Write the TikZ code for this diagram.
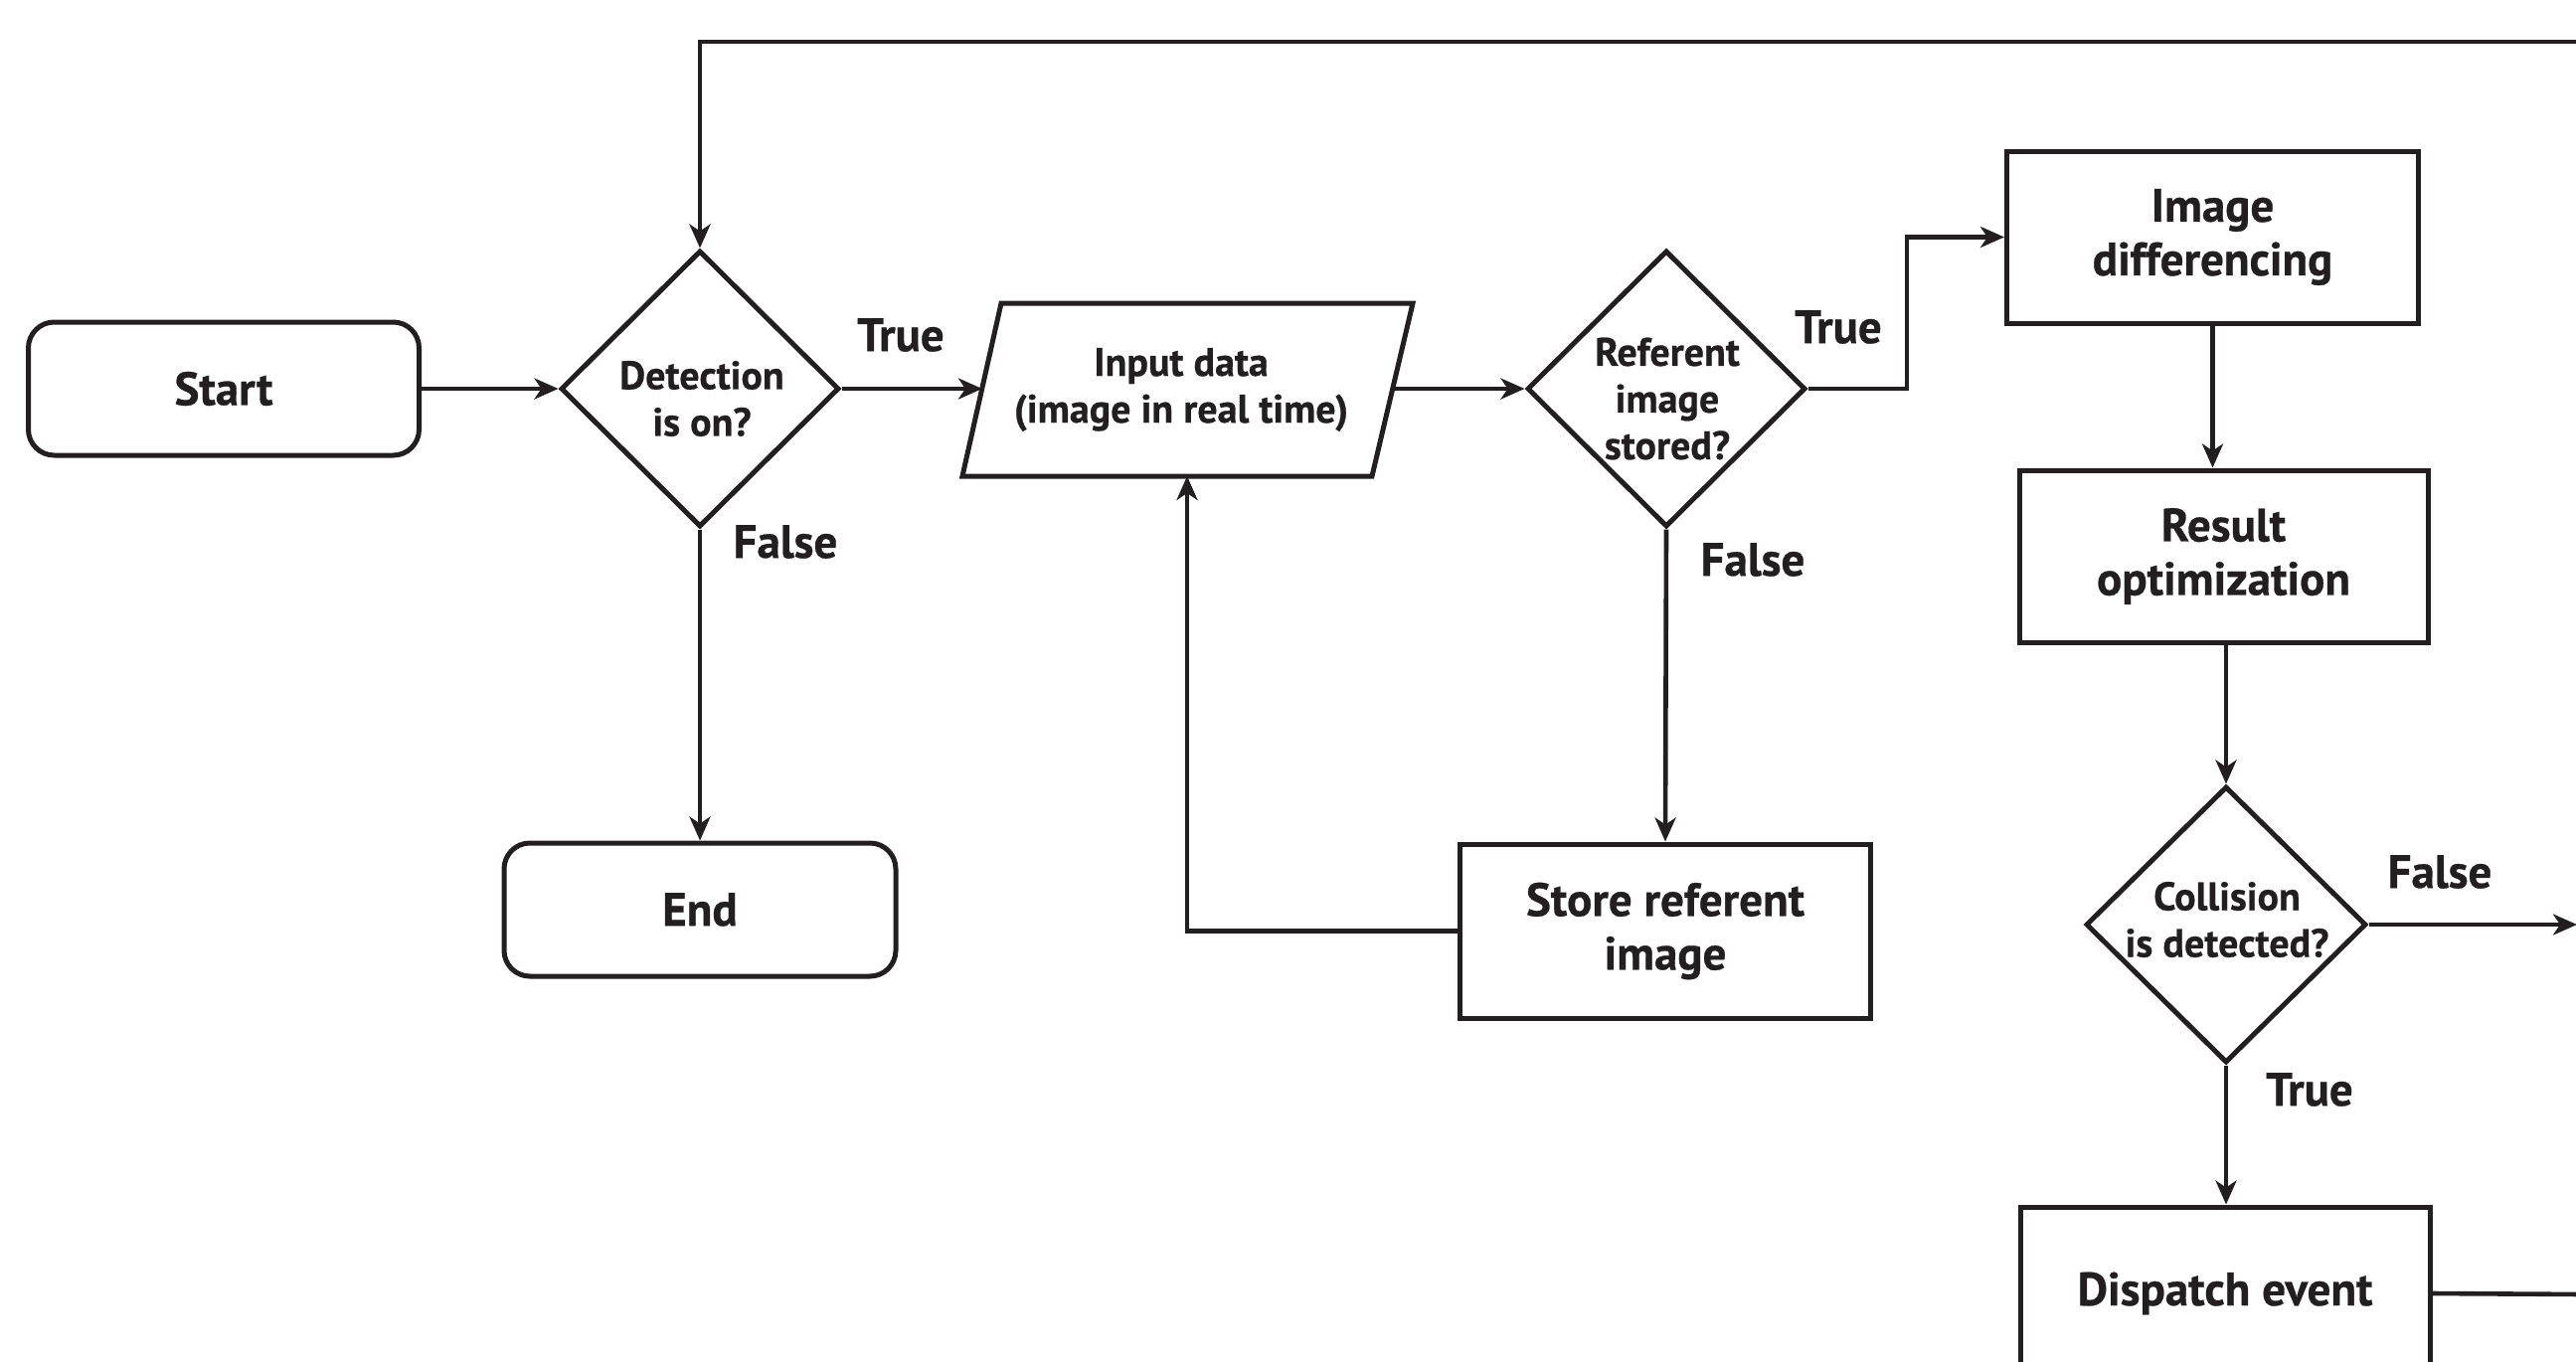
\documentclass[tikz,border=0pt]{standalone}
\usepackage{fontspec}
\setmainfont{PT Sans}[BoldFeatures={FakeBold=0.6}]
\usetikzlibrary{arrows.meta,shapes.geometric}
\definecolor{ink}{HTML}{231F20}
\newcommand{\boxfont}{\fontsize{47}{54}\selectfont\bfseries}
\newcommand{\smallfont}{\fontsize{40}{47}\selectfont\bfseries}
\begin{document}
\begin{tikzpicture}[x=1pt,y=-1pt,
  shapeline/.style={draw=ink, line width=5pt},
  procbox/.style={shapeline, rectangle, inner sep=0pt, align=center, font=\boxfont, text=ink},
  termbox/.style={procbox, rounded corners=26pt},
  decision/.style={shapeline, diamond, inner sep=0pt, minimum width=280pt, minimum height=278pt},
  dtext/.style={align=center, font=\smallfont, text=ink, inner sep=0pt},
  lab/.style={font=\boxfont, text=ink, inner sep=0pt},
  arr/.style={draw=ink, line width=4.6pt, -{Stealth[length=24pt,width=21pt,inset=7pt]}},
  plain/.style={draw=ink, line width=4.6pt}]
\useasboundingbox (0,0) rectangle (2591,1369);
\clip (0,0) rectangle (2591,1369);
\fill[white] (0,0) rectangle (2591,1369);

% nodes
\node[termbox, minimum width=393pt, minimum height=134pt] (start) at (225,391) {Start};
\node[decision] (det) at (704,391) {};
\node[dtext] (dett) at (706,401) {Detection\\is on?};
\node[termbox, minimum width=394pt, minimum height=134pt] (end) at (704,915) {End};

\draw[shapeline] (1007,305) coordinate (pTL) -- (1421,305) coordinate (pTR) -- (1380,479) coordinate (pBR) -- (968,479) coordinate (pBL) -- cycle;
\coordinate (inL) at (988,391);
\coordinate (inR) at (1401,391);
\coordinate (inB) at (1194,479);
\node[dtext] (inp) at (1188,392) {Input data\\(image in real time)};

\node[decision] (ref) at (1676,391) {};
\node[dtext] (reft) at (1677,401) {Referent\\image\\stored?};

\node[procbox, minimum width=414pt, minimum height=173pt] (imd) at (2225.5,238.5) {Image\\differencing};
\node[procbox, minimum width=411pt, minimum height=173pt] (res) at (2236.5,559.5) {Result\\optimization};
\node[decision, minimum width=282pt] (col) at (2239,930) {};
\node[dtext] (colt) at (2240,925) {Collision\\is detected?};
\node[procbox, minimum width=412pt, minimum height=174pt] (dis) at (2238,1301) {Dispatch event};
\node[procbox, minimum width=413pt, minimum height=175pt] (sto) at (1675,936.5) {Store referent\\image};

% labels
\node[lab] (l1) at (906,337) {True};
\node[lab] (l2) at (790,545) {False};
\node[lab] (l3) at (1849,329) {True};
\node[lab] (l4) at (1763,563) {False};
\node[lab] (l5) at (2454,877) {False};
\node[lab] (l6) at (2323,1096) {True};

% off-page ends
\coordinate (topR) at (2600,42);
\coordinate (falseR) at (2592,930);
\coordinate (disR) at (2600,1302);

% connectors
\draw[arr] (start.east) -- (det.west);
\draw[arr] (det.east) -- (inL);
\draw[arr] (det.south) -- (end.north);
\draw[arr] (topR) -| (det.north);
\draw[arr] (inR) -- (ref.west);
\draw[arr] (ref.east) -- (1918,391) |- (imd.west);
\draw[arr] (ref.south) -- (sto.north);
\draw[arr] (sto.west) -| (inB);
\draw[arr] (imd.south) -- (imd.south |- res.north);
\draw[arr] (res.south -| col.north) -- (col.north);
\draw[arr] (col.east) -- (falseR);
\draw[arr] (col.south) -- (col.south |- dis.north);
\draw[plain] (dis.east) -- (disR);
\end{tikzpicture}
\end{document}
